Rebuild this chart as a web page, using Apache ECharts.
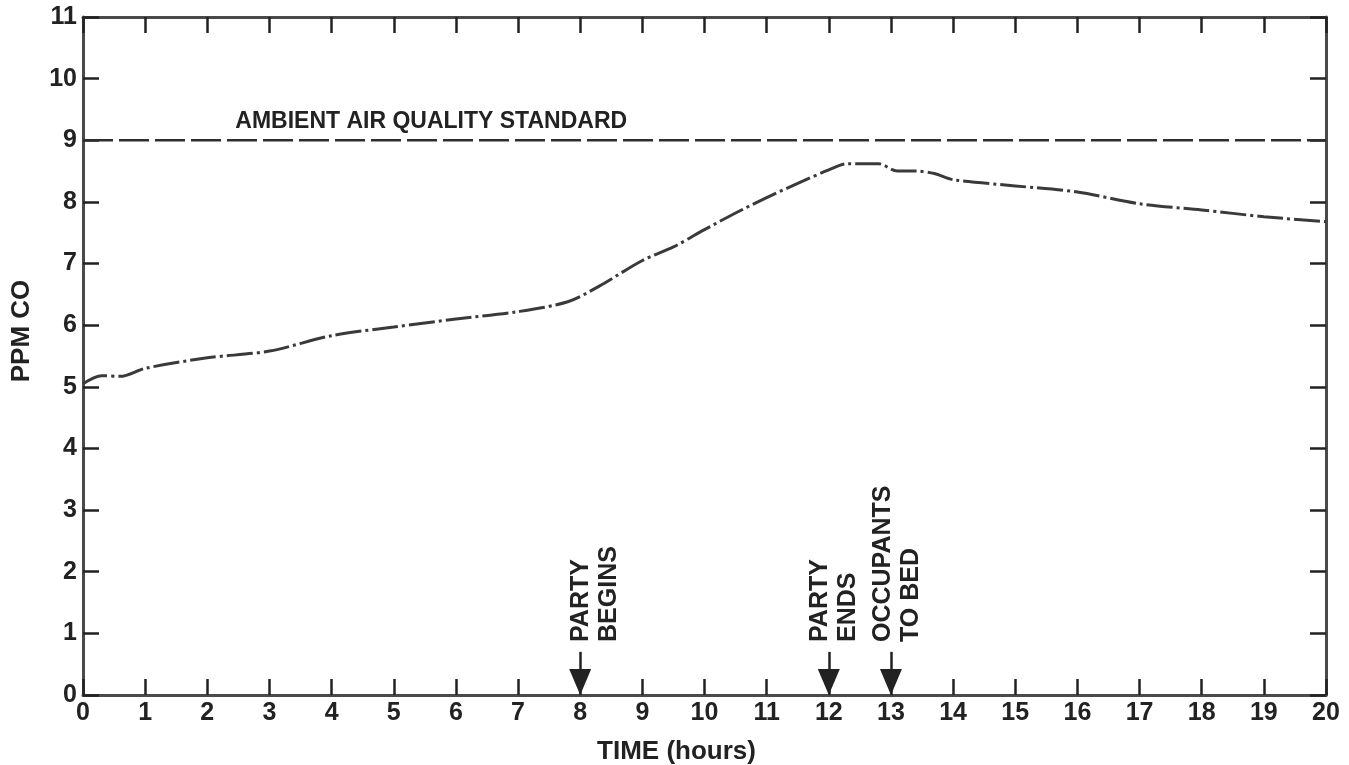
<!DOCTYPE html>
<html>
<head>
<meta charset="utf-8">
<script src="https://cdn.jsdelivr.net/npm/echarts@6/dist/echarts.min.js"></script>
<style>
  html, body { margin: 0; padding: 0; background: #fff; }
  #chart { width: 1349px; height: 765px; }
</style>
</head>
<body>
<div id="chart"></div>
<script>
  // readings taken off the original figure
  var hours = [0, 0.3, 0.6, 1, 2, 3, 4, 5, 6, 7, 7.8, 8.3, 9, 9.5, 10, 10.5, 11, 11.5, 12, 12.3, 12.8, 13.1, 13.4, 13.7, 14, 15, 16, 17, 18, 19, 20];
  var ppm = [5.05, 5.18, 5.17, 5.3, 5.47, 5.58, 5.83, 5.97, 6.1, 6.22, 6.38, 6.63, 7.05, 7.27, 7.55, 7.82, 8.07, 8.3, 8.52, 8.62, 8.62, 8.5, 8.5, 8.46, 8.36, 8.26, 8.16, 7.97, 7.87, 7.76, 7.68];
  var standard = 9;
  var eventHours = [8, 12, 13];
  var eventLabels = ['PARTY\nBEGINS', 'PARTY\nENDS', 'OCCUPANTS\nTO BED'];
  var labelHours = [8.0, 11.85, 12.85];

  var ink = '#222';
  var font = 'Liberation Sans';

  var myChart = echarts.init(document.getElementById('chart'));

  var tickStyle = {show: true, inside: true, length: 16, lineStyle: {color: ink, width: 2.5}};
  var lineAxis = {show: true, onZero: false, lineStyle: {color: '#4a4a4a', width: 3}};
  var labelStyle = {color: ink, fontSize: 25, fontWeight: 'bold', fontFamily: font, margin: 6};

  myChart.setOption({
    backgroundColor: '#fff',
    animation: false,
    grid: {left: 83, right: 23, top: 17, bottom: 70},
    xAxis: [
      {
        type: 'value', min: 0, max: 20, interval: 1, position: 'bottom',
        axisLine: lineAxis, axisTick: tickStyle, splitLine: {show: false},
        axisLabel: labelStyle
      },
      {
        type: 'value', min: 0, max: 20, interval: 1, position: 'top',
        axisLine: lineAxis, axisTick: tickStyle, splitLine: {show: false},
        axisLabel: {show: false}
      }
    ],
    yAxis: [
      {
        type: 'value', min: 0, max: 11, interval: 1, position: 'left',
        axisLine: lineAxis, axisTick: tickStyle, splitLine: {show: false},
        axisLabel: labelStyle
      },
      {
        type: 'value', min: 0, max: 11, interval: 1, position: 'right',
        axisLine: lineAxis, axisTick: tickStyle, splitLine: {show: false},
        axisLabel: {show: false}
      }
    ],
    series: [
      {
        name: 'PPM CO',
        type: 'line',
        data: hours.map(function (h, i) { return [h, ppm[i]]; }),
        showSymbol: false,
        smooth: 0.3,
        lineStyle: {color: '#3a3a3a', width: 3, type: [26, 4, 3, 4]},
        markLine: {
          silent: true,
          symbol: ['none', 'triangle'],
          symbolSize: [22, 26],
          label: {show: false},
          lineStyle: {color: ink, width: 2.5, type: 'solid'},
          data: eventHours.map(function (h) {
            return [{coord: [h, 0.7]}, {coord: [h, 0.21]}];
          })
        }
      },
      {
        name: 'standard',
        type: 'line',
        data: [[0, standard], [20, standard]],
        showSymbol: false,
        lineStyle: {color: '#2e2e2e', width: 2.5, type: [30, 6]}
      }
    ]
  });

  // text labels placed from data coordinates
  var txt = [];
  var p = myChart.convertToPixel({gridIndex: 0}, [2.45, 9.3]);
  txt.push({
    type: 'text', x: p[0], y: p[1],
    style: {text: 'AMBIENT AIR QUALITY STANDARD', fill: ink, fontSize: 23, fontWeight: 'bold', fontFamily: font,
      textAlign: 'left', textVerticalAlign: 'middle'}
  });
  for (var i = 0; i < eventLabels.length; i++) {
    var q = myChart.convertToPixel({gridIndex: 0}, [labelHours[i], 0.86]);
    txt.push({
      type: 'text', x: q[0] - 13, y: q[1], rotation: Math.PI / 2,
      style: {text: eventLabels[i], fill: ink, fontSize: 25, lineHeight: 28, fontWeight: 'bold', fontFamily: font,
        textAlign: 'left', textVerticalAlign: 'top'}
    });
  }
  // axis titles sit a little off-centre in the original
  var t = myChart.convertToPixel({gridIndex: 0}, [9.55, 0]);
  txt.push({
    type: 'text', x: t[0], y: 752,
    style: {text: 'TIME (hours)', fill: ink, fontSize: 26, fontWeight: 'bold', fontFamily: font,
      textAlign: 'center', textVerticalAlign: 'middle'}
  });
  txt.push({
    type: 'text', x: 22, y: 331, rotation: Math.PI / 2,
    style: {text: 'PPM CO', fill: ink, fontSize: 26, fontWeight: 'bold', fontFamily: font,
      textAlign: 'center', textVerticalAlign: 'middle'}
  });
  myChart.setOption({graphic: txt});
</script>
</body>
</html>
